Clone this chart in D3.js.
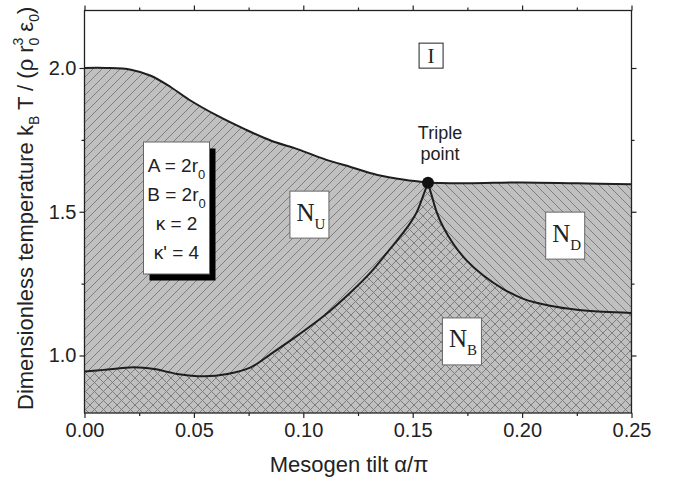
<!DOCTYPE html>
<html>
<head>
<meta charset="utf-8">
<script src="https://cdn.jsdelivr.net/npm/d3@7"></script>
<style>
  body { margin: 0; background: #fff; }
  svg { display: block; font-family: "Liberation Sans", Arial, sans-serif; }
</style>
</head>
<body>
<svg id="chart"></svg>
<script>
// phase boundaries (tilt alpha/pi, temperature)
const upperTilt = [0, 0.01, 0.0212, 0.0303, 0.0395, 0.0486, 0.0607, 0.073, 0.0853, 0.0973, 0.1097, 0.1219, 0.1339, 0.1463, 0.157];
const upperTemp = [2.0, 2.0, 1.994, 1.973, 1.933, 1.886, 1.834, 1.788, 1.747, 1.718, 1.683, 1.655, 1.628, 1.611, 1.601];

const isoNdTilt = [0.157, 0.175, 0.2, 0.225, 0.25];
const isoNdTemp = [1.601, 1.599, 1.602, 1.599, 1.596];

const nuNbTilt = [0, 0.0089, 0.0226, 0.0318, 0.0424, 0.0546, 0.0653, 0.076, 0.0851, 0.0973, 0.1095, 0.1217, 0.1308, 0.1396, 0.148, 0.1518, 0.1548, 0.157];
const nuNbTemp = [0.944, 0.95, 0.959, 0.953, 0.936, 0.928, 0.936, 0.959, 1.005, 1.069, 1.138, 1.22, 1.289, 1.37, 1.451, 1.498, 1.556, 1.601];

const ndNbTilt = [0.157, 0.1587, 0.161, 0.164, 0.1686, 0.1747, 0.1823, 0.1914, 0.2006, 0.2128, 0.225, 0.2371, 0.25];
const ndNbTemp = [1.601, 1.556, 1.498, 1.446, 1.388, 1.33, 1.278, 1.231, 1.197, 1.173, 1.159, 1.152, 1.148];

const triplePoint = [0.157, 1.601];

const xTicks = [0, 0.05, 0.1, 0.15, 0.2, 0.25];
const xMinor = [0.025, 0.075, 0.125, 0.175, 0.225];
const yTicks = [1.0, 1.5, 2.0];
const yMinor = [1.25, 1.75];

// phase labels: name, subscript, tilt, temp
const phaseNames = ["I", "N", "N", "N"];
const phaseSubs = ["", "U", "D", "B"];
const phaseTilt = [0.1584, 0.1028, 0.2197, 0.1725];
const phaseTemp = [2.043, 1.49, 1.417, 1.049];

const zip = (xs, ys) => xs.map((x, i) => [x, ys[i]]);

let width = 680,
  height = 478;

let svg = d3.select("#chart").attr("width", width).attr("height", height);

let x = d3.scaleLinear().domain([0, 0.25]).range([84.5, 631.5]);
let y = d3.scaleLinear().domain([0.8, 2.2]).range([413, 10.5]);

// hatch patterns
let defs = svg.append("defs");
const hatchColor = "#7e7e7e";
const bg = "#c0c0c0";

function addPattern(id, size, d) {
  let p = defs
    .append("pattern")
    .attr("id", id)
    .attr("patternUnits", "userSpaceOnUse")
    .attr("width", size)
    .attr("height", size);
  p.append("rect").attr("width", size).attr("height", size).attr("fill", bg);
  p.append("path")
    .attr("d", d)
    .attr("stroke", hatchColor)
    .attr("stroke-width", 1)
    .attr("fill", "none");
}
addPattern("fwd", 9, "M-1,1 L1,-1 M0,9 L9,0 M8,10 L10,8");
addPattern("back", 9, "M-1,8 L1,10 M0,0 L9,9 M8,-1 L10,1");
addPattern("cross", 9, "M-1,1 L1,-1 M0,9 L9,0 M8,10 L10,8 M-1,8 L1,10 M0,0 L9,9 M8,-1 L10,1");

let line = d3
  .line()
  .x((d) => x(d[0]))
  .y((d) => y(d[1]))
  .curve(d3.curveCatmullRom.alpha(0.5));

const upper = zip(upperTilt, upperTemp);
const isoNd = zip(isoNdTilt, isoNdTemp);
const nuNb = zip(nuNbTilt, nuNbTemp);
const ndNb = zip(ndNbTilt, ndNbTemp);

let plot = svg.append("g");

// N_U: everything under the upper boundary
plot
  .append("path")
  .attr(
    "d",
    line(upper) + "L" + line(isoNd).slice(1) +
      "L" + x(0.25) + "," + y(0.8) + "L" + x(0) + "," + y(0.8) + "Z"
  )
  .attr("fill", "url(#fwd)");

// N_D: right of the triple point
plot
  .append("path")
  .attr(
    "d",
    line(isoNd) + "L" + x(0.25) + "," + y(0.8) + "L" + x(triplePoint[0]) + "," + y(0.8) + "Z"
  )
  .attr("fill", "url(#back)");

// N_B: below both lower boundaries
plot
  .append("path")
  .attr(
    "d",
    line(nuNb) + "L" + line(ndNb).slice(1) +
      "L" + x(0.25) + "," + y(0.8) + "L" + x(0) + "," + y(0.8) + "Z"
  )
  .attr("fill", "url(#cross)");

// boundary lines
[upper, isoNd, nuNb, ndNb].forEach((pts) => {
  plot
    .append("path")
    .attr("d", line(pts))
    .attr("fill", "none")
    .attr("stroke", "#1e1e1e")
    .attr("stroke-width", 2);
});

plot
  .append("circle")
  .attr("cx", x(triplePoint[0]))
  .attr("cy", y(triplePoint[1]))
  .attr("r", 6)
  .attr("fill", "#111");

// frame
svg
  .append("rect")
  .attr("x", x(0))
  .attr("y", y(2.2))
  .attr("width", x(0.25) - x(0))
  .attr("height", y(0.8) - y(2.2))
  .attr("fill", "none")
  .attr("stroke", "#222")
  .attr("stroke-width", 1.3);

// axes
function styleAxis(g) {
  g.select(".domain").remove();
  g.selectAll(".tick line").attr("stroke", "#222").attr("stroke-width", 1.2);
  g.selectAll(".tick text").attr("fill", "#222").style("font-size", "20px").style("font-family", "Liberation Sans, Arial, sans-serif");
}

svg.append("g").attr("transform", `translate(0,${y(0.8)})`)
  .call(d3.axisBottom(x).tickValues(xTicks).tickFormat(d3.format(".2f")).tickSize(5).tickPadding(5))
  .call(styleAxis);
svg.append("g").attr("transform", `translate(0,${y(0.8)})`)
  .call(d3.axisBottom(x).tickValues(xMinor).tickFormat("").tickSize(3))
  .call(styleAxis);
svg.append("g").attr("transform", `translate(0,${y(2.2)})`)
  .call(d3.axisTop(x).tickValues(xTicks).tickFormat("").tickSize(5))
  .call(styleAxis);
svg.append("g").attr("transform", `translate(0,${y(2.2)})`)
  .call(d3.axisTop(x).tickValues(xMinor).tickFormat("").tickSize(3))
  .call(styleAxis);

svg.append("g").attr("transform", `translate(${x(0)},0)`)
  .call(d3.axisLeft(y).tickValues(yTicks).tickFormat(d3.format(".1f")).tickSize(5).tickPadding(3))
  .call(styleAxis);
svg.append("g").attr("transform", `translate(${x(0)},0)`)
  .call(d3.axisLeft(y).tickValues(yMinor).tickFormat("").tickSize(3))
  .call(styleAxis);
svg.append("g").attr("transform", `translate(${x(0.25)},0)`)
  .call(d3.axisRight(y).tickValues(yTicks).tickFormat("").tickSize(5))
  .call(styleAxis);
svg.append("g").attr("transform", `translate(${x(0.25)},0)`)
  .call(d3.axisRight(y).tickValues(yMinor).tickFormat("").tickSize(3))
  .call(styleAxis);

// axis titles
svg
  .append("text")
  .attr("x", 349)
  .attr("y", 472)
  .attr("text-anchor", "middle")
  .attr("fill", "#222")
  .style("font-size", "22px")
  .text("Mesogen tilt α/π");

let ylab = svg
  .append("text")
  .attr("transform", "translate(33,410) rotate(-90)")
  .attr("fill", "#222")
  .style("font-size", "22px");
ylab.append("tspan").text("Dimensionless temperature  k");
ylab.append("tspan").attr("dy", 6).style("font-size", "14px").text("B");
ylab.append("tspan").attr("dy", -6).text(" T / (ρ r");
ylab.append("tspan").attr("dy", 6).style("font-size", "14px").text("0");
ylab.append("tspan").attr("dy", -16).attr("dx", -8).style("font-size", "14px").text("3");
ylab.append("tspan").attr("dy", 10).text(" ε");
ylab.append("tspan").attr("dy", 6).style("font-size", "14px").text("0");
ylab.append("tspan").attr("dy", -6).text(")");

// phase labels
phaseNames.forEach((name, i) => {
  let cx = x(phaseTilt[i]),
    cy = y(phaseTemp[i]);
  let isIso = name === "I";
  let w = isIso ? 24 : 39,
    h = isIso ? 25 : 47;
  svg
    .append("rect")
    .attr("x", cx - w / 2)
    .attr("y", cy - h / 2)
    .attr("width", w)
    .attr("height", h)
    .attr("fill", "#fff")
    .attr("stroke", isIso ? "#222" : "#666")
    .attr("stroke-width", 1);
  let t = svg
    .append("text")
    .attr("x", isIso ? cx : cx - 13)
    .attr("y", isIso ? cy + 7 : cy + 6)
    .attr("text-anchor", isIso ? "middle" : "start")
    .attr("fill", "#222")
    .style("font-family", "Liberation Serif, Times New Roman, serif")
    .style("font-size", isIso ? "21px" : "25px")
    .text(name);
  if (phaseSubs[i]) {
    t.append("tspan").attr("dy", 8).style("font-size", "15px").text(phaseSubs[i]);
  }
});

// triple point label
let tp = svg
  .append("text")
  .attr("x", 440)
  .attr("y", 139)
  .attr("text-anchor", "middle")
  .attr("fill", "#222")
  .style("font-size", "18px");
tp.append("tspan").attr("x", 440).text("Triple");
tp.append("tspan").attr("x", 440).attr("dy", 21).text("point");

// parameter box with shadow
const params = [
  ["A = 2r", "0"],
  ["B = 2r", "0"],
  ["κ = 2", ""],
  ["κ' = 4", ""],
];
svg.append("rect").attr("x", 149.5).attr("y", 148.5).attr("width", 66).attr("height", 132).attr("fill", "#000");
svg.append("rect").attr("x", 143.5).attr("y", 142).attr("width", 66).attr("height", 132)
  .attr("fill", "#fff").attr("stroke", "#666").attr("stroke-width", 1);
params.forEach((p, i) => {
  let t = svg
    .append("text")
    .attr("x", 176.5)
    .attr("y", 172 + i * 29)
    .attr("text-anchor", "middle")
    .attr("fill", "#222")
    .style("font-size", "19px")
    .text(p[0]);
  if (p[1]) t.append("tspan").attr("dy", 7).style("font-size", "13px").text(p[1]);
});
</script>
</body>
</html>
